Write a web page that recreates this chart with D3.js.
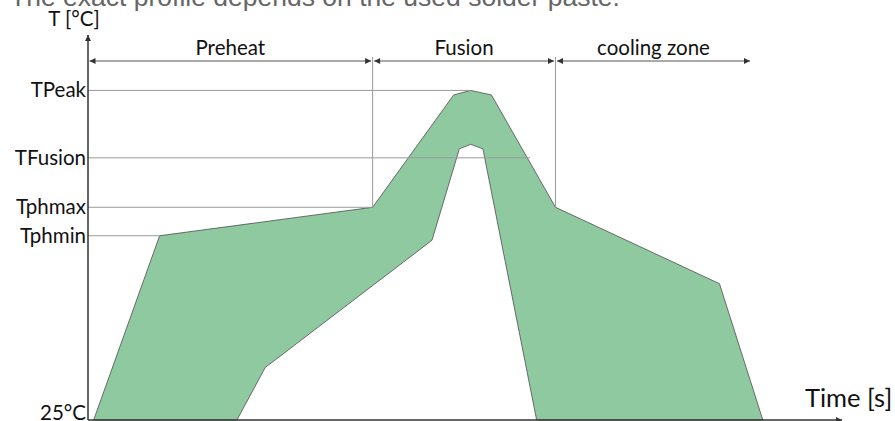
<!DOCTYPE html>
<html>
<head>
<meta charset="utf-8">
<script src="https://cdn.jsdelivr.net/npm/d3@7"></script>
<style>
  body { margin: 0; background: #fff; }
  svg { display: block; }
</style>
</head>
<body>
<script>
// reflow profile band (time in s, temperature in °C)
var upperTime = [3, 38, 151, 194, 203, 214, 248, 335, 358];
var upperTemp = [25, 148, 167, 242, 245, 242, 167, 116, 25];
var lowerTime = [79, 94, 182.5, 197, 203, 209.5, 238];
var lowerTemp = [25, 60, 145, 206, 209, 206, 25];

// named temperature levels
var levelNames = ["TPeak", "TFusion", "Tphmax", "Tphmin", "25°C"];
var levelTemps = [245, 200, 167, 148, 25];
var levelEnds = [203, 234.5, 151, 38, 0];

// zones
var zoneNames = ["Preheat", "Fusion", "cooling zone"];
var zoneStart = [0, 151, 248];
var zoneEnd = [151, 248, 352];

var svgWidth = 895;
var svgHeight = 421;

var svg = d3.select("body")
    .append("svg")
    .attr("width", svgWidth)
    .attr("height", svgHeight);

var xScale = d3.scaleLinear()
    .domain([0, 400])
    .range([88, 842]);
var yScale = d3.scaleLinear()
    .domain([25, 282])
    .range([420, 35]);

var labelFont = "Lato, 'Open Sans', sans-serif";

// arrow markers
var defs = svg.append("defs");
defs.append("marker")
    .attr("id", "head")
    .attr("viewBox", "0 0 10 10")
    .attr("refX", 10).attr("refY", 5)
    .attr("markerWidth", 7).attr("markerHeight", 6)
    .attr("markerUnits", "userSpaceOnUse")
    .attr("orient", "auto-start-reverse")
    .append("path")
    .attr("d", "M0,0 L10,5 L0,10 z")
    .attr("fill", "#333");

// title (cut off at the top, like the source)
svg.append("text")
    .attr("x", 10)
    .attr("y", 6)
    .attr("font-family", "'Liberation Sans', Arial, sans-serif")
    .attr("font-size", 26.5)
    .attr("fill", "#666")
    .text("The exact profile depends on the used solder paste.");

// the band
var band = upperTime.map(function(t, i) { return [t, upperTemp[i]]; });
for (var i = lowerTime.length - 1; i >= 0; i--) {
    band.push([lowerTime[i], lowerTemp[i]]);
}
var line = d3.line()
    .x(function(d) { return xScale(d[0]); })
    .y(function(d) { return yScale(d[1]); });

svg.append("path")
    .attr("d", line(band) + "Z")
    .attr("fill", "#8fc9a0")
    .attr("stroke", "#4d4d4d")
    .attr("stroke-width", 0.8);

// level reference lines
svg.selectAll(".level")
    .data(levelTemps)
    .enter()
    .append("line")
    .attr("class", "level")
    .attr("x1", xScale(0))
    .attr("x2", function(d, i) { return xScale(levelEnds[i]); })
    .attr("y1", d => yScale(d))
    .attr("y2", d => yScale(d))
    .attr("stroke", "#9a9a9a")
    .attr("stroke-width", 1);

svg.selectAll(".levelLabel")
    .data(levelNames)
    .enter()
    .append("text")
    .attr("class", "levelLabel")
    .attr("x", 86)
    .attr("y", function(d, i) {
        // the bottom label sits on the axis
        return i == levelNames.length - 1 ? yScale(levelTemps[i]) : yScale(levelTemps[i]) + 7;
    })
    .attr("text-anchor", "end")
    .attr("font-family", labelFont)
    .attr("font-size", 20.5)
    .attr("fill", "#111")
    .text(d => d);

// zone separators
var zoneY = 61;
svg.selectAll(".sep")
    .data([zoneEnd[0], zoneEnd[1]])
    .enter()
    .append("line")
    .attr("class", "sep")
    .attr("x1", d => xScale(d))
    .attr("x2", d => xScale(d))
    .attr("y1", zoneY - 4)
    .attr("y2", yScale(167))
    .attr("stroke", "#9a9a9a")
    .attr("stroke-width", 1);

// zone arrows
svg.selectAll(".zone")
    .data(zoneNames)
    .enter()
    .append("line")
    .attr("class", "zone")
    .attr("x1", function(d, i) { return xScale(zoneStart[i]) + 1.5; })
    .attr("x2", function(d, i) { return xScale(zoneEnd[i]) - 1.5; })
    .attr("y1", zoneY)
    .attr("y2", zoneY)
    .attr("stroke", "#555")
    .attr("stroke-width", 1.2)
    .attr("marker-start", "url(#head)")
    .attr("marker-end", "url(#head)");

svg.selectAll(".zoneLabel")
    .data(zoneNames)
    .enter()
    .append("text")
    .attr("class", "zoneLabel")
    .attr("x", function(d, i) { return (xScale(zoneStart[i]) + xScale(zoneEnd[i])) / 2; })
    .attr("y", zoneY - 6)
    .attr("text-anchor", "middle")
    .attr("font-family", labelFont)
    .attr("font-size", 20.5)
    .attr("fill", "#111")
    .text(d => d);

// axes
svg.append("line")
    .attr("x1", xScale(0)).attr("x2", xScale(0))
    .attr("y1", yScale(25)).attr("y2", yScale(282))
    .attr("stroke", "#333").attr("stroke-width", 1.5)
    .attr("marker-end", "url(#head)");
svg.append("line")
    .attr("x1", xScale(0)).attr("x2", xScale(400))
    .attr("y1", yScale(25)).attr("y2", yScale(25))
    .attr("stroke", "#333").attr("stroke-width", 1.5)
    .attr("marker-end", "url(#head)");

svg.append("text")
    .attr("x", 74)
    .attr("y", 26)
    .attr("text-anchor", "middle")
    .attr("font-family", labelFont)
    .attr("font-size", 20.5)
    .attr("fill", "#111")
    .text("T [°C]");

svg.append("text")
    .attr("x", 805)
    .attr("y", 407)
    .attr("font-family", labelFont)
    .attr("font-size", 25.5)
    .attr("fill", "#111")
    .text("Time [s]");
</script>
</body>
</html>
